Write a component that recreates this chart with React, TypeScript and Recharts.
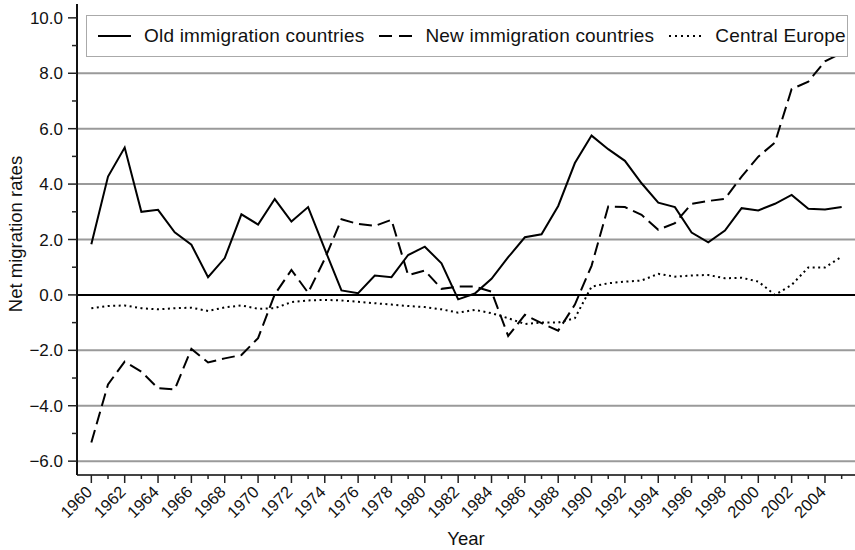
import { LineChart, Line, XAxis, YAxis, CartesianGrid, ReferenceLine, Legend } from 'recharts';

const years = [
  1960, 1961, 1962, 1963, 1964, 1965, 1966, 1967, 1968, 1969,
  1970, 1971, 1972, 1973, 1974, 1975, 1976, 1977, 1978, 1979,
  1980, 1981, 1982, 1983, 1984, 1985, 1986, 1987, 1988, 1989,
  1990, 1991, 1992, 1993, 1994, 1995, 1996, 1997, 1998, 1999,
  2000, 2001, 2002, 2003, 2004, 2005,
];

const oldImmigration = [
  1.83, 4.27, 5.32, 3.0, 3.07, 2.26, 1.81, 0.64, 1.33, 2.91,
  2.54, 3.46, 2.65, 3.17, 1.65, 0.16, 0.06, 0.7, 0.64, 1.44,
  1.74, 1.14, -0.16, 0.05, 0.58, 1.36, 2.08, 2.19, 3.21, 4.76,
  5.75, 5.26, 4.84, 4.03, 3.33, 3.17, 2.25, 1.9, 2.32, 3.13,
  3.05, 3.29, 3.61, 3.11, 3.08, 3.17,
];

const newImmigration = [
  -5.33, -3.23, -2.41, -2.77, -3.37, -3.41, -1.95, -2.44, -2.29, -2.17,
  -1.56, 0.02, 0.9, 0.08, 1.3, 2.73, 2.56, 2.49, 2.71, 0.71,
  0.88, 0.22, 0.3, 0.3, 0.12, -1.48, -0.72, -1.02, -1.29, -0.35,
  1.05, 3.19, 3.17, 2.89, 2.35, 2.59, 3.29, 3.39, 3.47, 4.27,
  4.99, 5.5, 7.43, 7.7, 8.43, 8.73,
];

const centralEurope = [
  -0.48, -0.4, -0.38, -0.48, -0.52, -0.48, -0.46, -0.58, -0.45, -0.38,
  -0.5, -0.48, -0.26, -0.2, -0.18, -0.2, -0.25, -0.3, -0.35, -0.4,
  -0.44, -0.52, -0.64, -0.54, -0.66, -0.84, -1.05, -1.0, -1.0, -0.84,
  0.3, 0.42, 0.48, 0.52, 0.76, 0.66, 0.7, 0.72, 0.6, 0.62,
  0.48, 0.0, 0.36, 0.99, 0.99, 1.38,
];

const yTicks = [-6, -5, -4, -3, -2, -1, 0, 1, 2, 3, 4, 5, 6, 7, 8, 9, 10];
const gridValues = [-6, -4, -2, 2, 4, 6, 8];

const seriesNames = ['Old immigration countries', 'New immigration countries', 'Central Europe'];
const seriesDash = ['', '13 7', '2 4'];

const FONT = '"Liberation Sans", Arial, Helvetica, sans-serif';

const data = years.map((year, i) => ({
  year,
  oldRate: oldImmigration[i],
  newRate: newImmigration[i],
  central: centralEurope[i],
}));

const fmt = (v: number) => v.toFixed(1).replace('-', '\u2212');

const YTick = ({ x, y, payload }: any) => {
  const v = payload.value;
  const major = v % 2 === 0;
  return (
    <g>
      <line x1={x} x2={x - (major ? 9 : 5)} y1={y} y2={y} stroke="#222" strokeWidth={1.5} />
      {major && (
        <text x={x - 14} y={y} dy="0.36em" textAnchor="end" fontSize={17} fontFamily={FONT} fill="#111">
          {fmt(v)}
        </text>
      )}
    </g>
  );
};

const XTick = ({ x, y, payload }: any) => {
  const v = payload.value;
  const major = v % 2 === 0;
  return (
    <g>
      <line x1={x} x2={x} y1={y} y2={y + (major ? 8 : 4)} stroke="#222" strokeWidth={1.5} />
      {major && (
        <text
          x={0}
          y={0}
          transform={`translate(${x + 2},${y + 18}) rotate(-45)`}
          textAnchor="end"
          fontSize={16.5}
          fontFamily={FONT}
          fill="#111"
        >
          {v}
        </text>
      )}
    </g>
  );
};

const LegendBox = () => (
  <div
    style={{
      boxSizing: 'border-box',
      width: 762,
      height: 42,
      border: '1.5px solid #aaa',
      background: '#fff',
      display: 'flex',
      alignItems: 'center',
      fontFamily: FONT,
      fontSize: 19,
      letterSpacing: 0.2,
      color: '#111',
      paddingLeft: 11,
      whiteSpace: 'nowrap',
      overflow: 'hidden',
    }}
  >
    {seriesNames.map((name, i) => (
      <div key={name} style={{ display: 'flex', alignItems: 'center', marginRight: 15, flexShrink: 0 }}>
        <svg width={33} height={6} style={{ marginRight: 13, flexShrink: 0 }}>
          <line x1={0} x2={33} y1={3} y2={3} stroke="#000" strokeWidth={2} strokeDasharray={seriesDash[i] || undefined} />
        </svg>
        <span>{name}</span>
      </div>
    ))}
  </div>
);

export default function App() {
  return (
    <div style={{ position: 'absolute', left: 0, top: 0, background: '#fff' }}>
      <LineChart width={855} height={550} data={data} margin={{ top: 4, right: 0, bottom: 0, left: 0 }}>
        <CartesianGrid horizontal vertical={false} horizontalValues={gridValues} stroke="#9a9a9a" strokeWidth={2} />
        <XAxis
          dataKey="year"
          type="number"
          domain={[1959.14, 2005.8]}
          ticks={years}
          interval={0}
          height={75}
          tickSize={0}
          tickMargin={0}
          tickLine={false}
          tick={<XTick />}
          axisLine={{ stroke: '#444', strokeWidth: 2 }}
          allowDataOverflow
          label={{
            content: ({ viewBox }: any) => (
              <text
                x={viewBox.x + viewBox.width / 2}
                y={545}
                textAnchor="middle"
                fontSize={18.5}
                fontFamily={FONT}
                fill="#111"
              >
                Year
              </text>
            ),
          }}
        />
        <YAxis
          type="number"
          domain={[-6.5, 10.5]}
          ticks={yTicks}
          interval={0}
          width={77}
          tickSize={0}
          tickMargin={0}
          tickLine={false}
          tick={<YTick />}
          axisLine={{ stroke: '#111', strokeWidth: 2 }}
          allowDataOverflow
          label={{
            content: () => (
              <text
                x={0}
                y={0}
                transform="translate(22,234) rotate(-90)"
                textAnchor="middle"
                fontSize={18.5}
                fontFamily={FONT}
                fill="#111"
              >
                Net migration rates
              </text>
            ),
          }}
        />
        <ReferenceLine y={0} stroke="#000" strokeWidth={2} />
        <Line type="linear" dataKey="oldRate" stroke="#000" strokeWidth={2} dot={false} isAnimationActive={false} />
        <Line type="linear" dataKey="newRate" stroke="#000" strokeWidth={2} strokeDasharray="13 6" dot={false} isAnimationActive={false} />
        <Line type="linear" dataKey="central" stroke="#000" strokeWidth={2} strokeDasharray="2 3.5" dot={false} isAnimationActive={false} />
        <Legend
          layout="horizontal"
          verticalAlign="middle"
          align="center"
          content={<LegendBox />}
          wrapperStyle={{ position: 'absolute', top: 15, left: 86, width: 762, height: 42 }}
        />
      </LineChart>
    </div>
  );
}
